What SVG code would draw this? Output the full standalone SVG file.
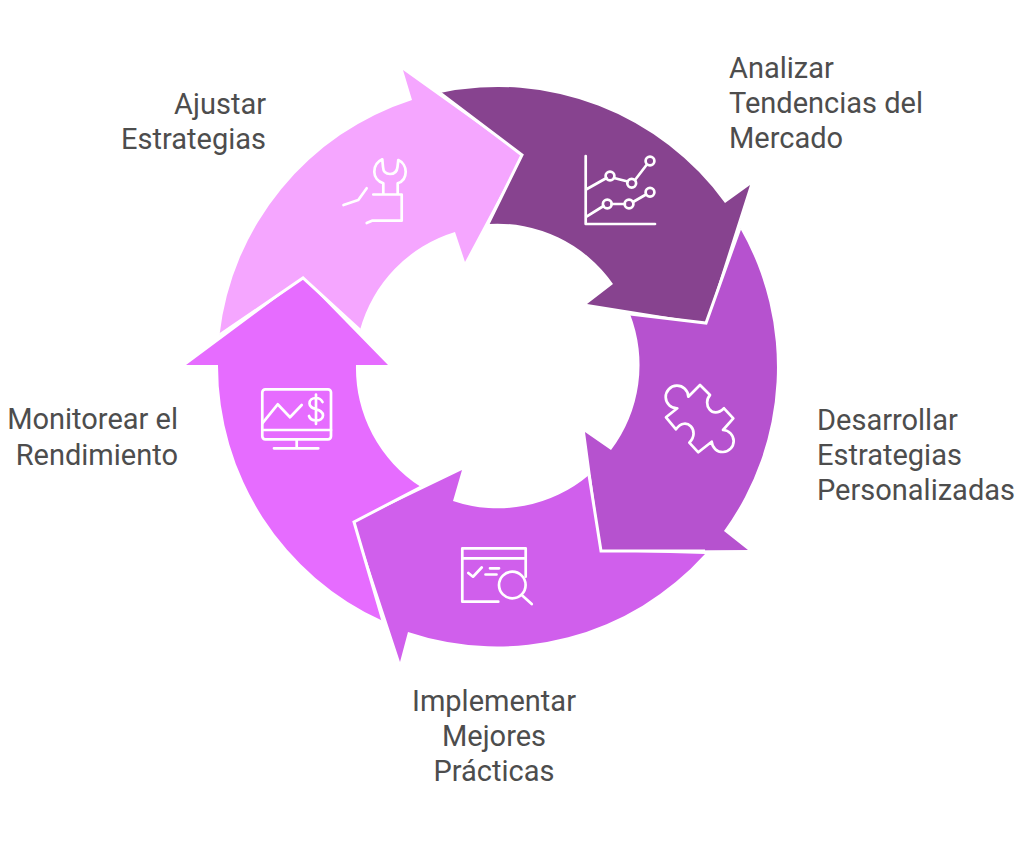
<svg xmlns="http://www.w3.org/2000/svg" width="1024" height="846" viewBox="0 0 1024 846">
<style>
.lb{font-family:Roboto,"Liberation Sans",sans-serif;font-size:29px;fill:#4d4d4d}
.ic{fill:none;stroke:#fff;stroke-width:2.7;stroke-linecap:round;stroke-linejoin:round}
.sep{fill:none;stroke:#fff;stroke-width:3;stroke-linejoin:miter}
</style>
<rect width="1024" height="846" fill="#fff"/>
<g id="node-ajustar">
<path fill="#F5A6FF" d="M412,100 L403,70 L522,155 L465,262 L455,232 A141,141 0 0 0 360,330 L303,278 L219.5,335 A280,280 0 0 1 412,100 Z"/>
<path class="ic" d="M383.3,193.3 V183.3 C378,181.5 374.3,177 374.3,171.7 C374.3,167 376.5,162 382.3,159.3 L383,167 C383.3,172 386.5,174 390,174 C393.5,174 397,172 397.5,167 L398.3,160 C403,162 405.7,167 405.7,171.7 C405.7,177 403,181.5 397.7,183.3 V193.3 M373.3,194.5 H401.7 V220.7 H372 L366.7,223 M366.7,188.3 L358.3,200 L343.5,205"/>
<text class="lb" text-anchor="end" x="266" y="114">Ajustar</text>
<text class="lb" text-anchor="end" x="266" y="149">Estrategias</text>
</g>
<g id="node-analizar">
<path fill="#87438F" d="M440,93 A280,280 0 0 1 725,203 L750,185 L706,323 L587,304 L613,284 A141,141 0 0 0 488,224 L522,155 Z"/>
<path class="ic" d="M585.7,156 V224 H655 M586.5,189.3 L606.5,178 M614,178 L627.7,181.5 M635,180 L646.5,165 M586.5,216.7 L603.5,206 M611.5,204 H625 M633,202 L646,194.5"/>
<circle class="ic" cx="610" cy="176" r="4.4"/>
<circle class="ic" cx="631.7" cy="183.3" r="4.4"/>
<circle class="ic" cx="650" cy="161" r="4.4"/>
<circle class="ic" cx="607.3" cy="204" r="4.4"/>
<circle class="ic" cx="629" cy="204" r="4.4"/>
<circle class="ic" cx="650" cy="192.3" r="4.4"/>
<text class="lb" x="729" y="78">Analizar</text>
<text class="lb" x="729" y="113">Tendencias del</text>
<text class="lb" x="729" y="148">Mercado</text>
</g>
<g id="node-desarrollar">
<path fill="#B652CF" d="M740,228 A280,280 0 0 1 724,531 L748,550 L601,551 L585,432 L611,450 A141,141 0 0 0 630,314 L706,323 Z"/>
<path class="ic" d="M700,385 L710,395 C702,404 712,420 724,408.3 L733.3,418.3 L723,430 A11,11 0 1 1 711.7,441.7 L698.3,452.3 L689.3,442.7 C701,431 686,415 676,429.3 L666,417.3 L677.3,408.3 A11.3,11.3 0 1 1 688.3,396.7 Z"/>
<text class="lb" x="817" y="430">Desarrollar</text>
<text class="lb" x="817" y="465">Estrategias</text>
<text class="lb" x="817" y="500">Personalizadas</text>
</g>
<g id="node-implementar">
<path fill="#D05FEC" d="M705,554 A280,280 0 0 1 408,632 L400,662 L354,522 L462,470 L453,501 A141,141 0 0 0 589,475 L601,551 Z"/>
<path class="ic" d="M498.3,601.7 H462.3 V548.3 H525.7 V576.7 M462.3,558.3 H525.7 M468.3,573 L473,576.7 L481.7,567.5 M490,568.3 H499 M485.5,574.5 H496.5 M521.7,595 L531.7,604"/>
<circle class="ic" cx="512.3" cy="585" r="13.3"/>
<text class="lb" text-anchor="middle" x="494" y="711">Implementar</text>
<text class="lb" text-anchor="middle" x="494" y="746">Mejores</text>
<text class="lb" text-anchor="middle" x="494" y="781">Prácticas</text>
</g>
<g id="node-monitorear">
<path fill="#E66CFF" d="M303,278 L388,365 H356 A141,141 0 0 0 421,487 L354,522 L383,621 A280,280 0 0 1 218,365 H186 Z"/>
<rect class="ic" x="262.3" y="389.3" width="68.7" height="50" rx="3"/>
<path class="ic" d="M262.3,430 H331 M296.7,439.3 V448.3 M274,448.3 H318.3 M262.3,423.3 L277.7,404.3 L290,417.3 L301.7,405 M322.5,402 C321,399 319,398 316,398 C312,398 309.5,400.5 309.5,403.5 C309.5,411 323,407.5 323,415.5 C323,418.5 320,420.5 316,420.5 C312.5,420.5 310,419 309,416 M316,394.5 V424"/>
<text class="lb" text-anchor="end" x="178" y="429">Monitorear el</text>
<text class="lb" text-anchor="end" x="178" y="465">Rendimiento</text>
</g>
<g id="connectors">
<path class="sep" d="M440,93 L522,155 L488,224"/>
<path class="sep" d="M740,228 L706,323 L630,314"/>
<path class="sep" d="M705,551 L601,551 L589,475"/>
<path class="sep" d="M421,487 L354,522 L383,621"/>
<path class="sep" d="M219.5,335 L303,278 L360,330"/>
</g>
</svg>
